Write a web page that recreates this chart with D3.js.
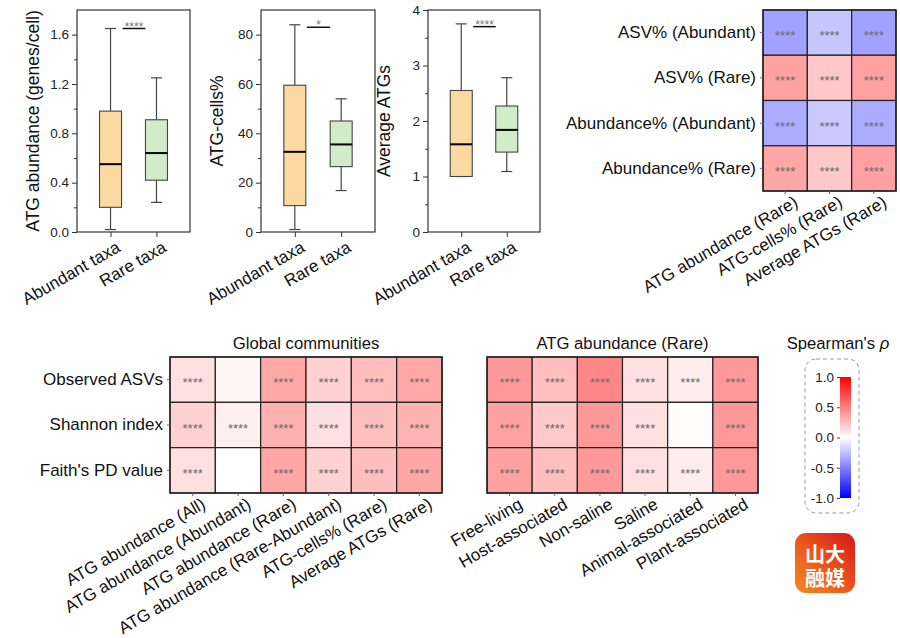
<!DOCTYPE html>
<html>
<head>
<meta charset="utf-8">
<script src="https://cdn.jsdelivr.net/npm/d3@7"></script>
<style>
body { margin: 0; background: #fff; }
text { font-family: "Liberation Sans", Arial, sans-serif; }
</style>
</head>
<body>
<svg id="fig" width="900" height="638"></svg>
<script>
// ---------------------------- DATA ----------------------------
const taxa = ["Abundant taxa", "Rare taxa"];
// box stats: [min, q1, median, q3, max]
const atgAbundance = [[0.02, 0.20, 0.55, 0.98, 1.65], [0.24, 0.42, 0.64, 0.91, 1.25]];
const atgCells = [[1, 10.7, 32.5, 59.5, 84], [16.8, 26.5, 35.5, 45, 54]];
const avgAtgs = [[1.0, 1.0, 1.58, 2.55, 3.75], [1.09, 1.44, 1.84, 2.27, 2.78]];
const boxTitles = ["ATG abundance (genes/cell)", "ATG-cells%", "Average ATGs"];
const boxMax = [1.8, 90, 4];
const boxTicks = [[0, 0.4, 0.8, 1.2, 1.6], [0, 20, 40, 60, 80], [0, 1, 2, 3, 4]];
const boxMinor = [[0.2, 0.6, 1.0, 1.4], [10, 30, 50, 70], [0.5, 1.5, 2.5, 3.5]];
const sigLevel = [1.65, 83, 3.7];
const sigMarks = ["****", "*", "****"];

const compRows = ["ASV% (Abundant)", "ASV% (Rare)", "Abundance% (Abundant)", "Abundance% (Rare)"];
const compCols = ["ATG abundance (Rare)", "ATG-cells% (Rare)", "Average ATGs (Rare)"];
const compRho = [[-0.37, -0.22, -0.37], [0.37, 0.22, 0.37], [-0.33, -0.21, -0.33], [0.35, 0.21, 0.37]];
const compSig = [["****", "****", "****"], ["****", "****", "****"], ["****", "****", "****"], ["****", "****", "****"]];

const diversityRows = ["Observed ASVs", "Shannon index", "Faith's PD value"];
const globalCols = ["ATG abundance (All)", "ATG abundance (Abundant)", "ATG abundance (Rare)",
    "ATG abundance (Rare-Abundant)", "ATG-cells% (Rare)", "Average ATGs (Rare)"];
const globalRho = [[0.12, 0.03, 0.34, 0.18, 0.25, 0.34],
                   [0.18, 0.06, 0.31, 0.12, 0.25, 0.30],
                   [0.12, 0.00, 0.35, 0.18, 0.25, 0.35]];
const globalSig = [["****", "", "****", "****", "****", "****"],
                   ["****", "****", "****", "****", "****", "****"],
                   ["****", "", "****", "****", "****", "****"]];

const habitatCols = ["Free-living", "Host-associated", "Non-saline", "Saline", "Animal-associated", "Plant-associated"];
const habitatRho = [[0.40, 0.25, 0.47, 0.12, 0.07, 0.40],
                    [0.37, 0.21, 0.40, 0.12, 0.01, 0.40],
                    [0.37, 0.25, 0.40, 0.12, 0.07, 0.40]];
const habitatSig = [["****", "****", "****", "****", "****", "****"],
                    ["****", "****", "****", "****", "", "****"],
                    ["****", "****", "****", "****", "****", "****"]];

const legendTicks = [1.0, 0.5, 0.0, -0.5, -1.0];

// ---------------------------- SETUP ----------------------------
const svg = d3.select("#fig");
svg.append("rect").attr("width", 900).attr("height", 638).attr("fill", "#fff");

const rhoColor = d3.scaleLinear().domain([-1, 0, 1]).range(["#0000ff", "#ffffff", "#ff0000"]);
const boxFill = ["#fdd9a2", "#d2ecca"];
const axisCol = "#333";
const font = "Liberation Sans, Arial, sans-serif";

// ---------------------------- BOX PLOTS ----------------------------
const boxPanels = [
    { data: atgAbundance, left: 77, right: 190, fmt: d3.format(".1f") },
    { data: atgCells, left: 261, right: 375, fmt: d3.format("d") },
    { data: avgAtgs, left: 428, right: 540, fmt: d3.format("d") }
];
const boxTop = 10, boxBottom = 232;

boxPanels.forEach((p, k) => {
    const g = svg.append("g");
    const x = d3.scalePoint().domain(taxa).range([p.left, p.right]).padding(0.73);
    const y = d3.scaleLinear().domain([0, boxMax[k]]).range([boxBottom, boxTop]);

    // frame
    g.append("rect")
        .attr("x", p.left).attr("y", boxTop)
        .attr("width", p.right - p.left).attr("height", boxBottom - boxTop)
        .attr("fill", "none").attr("stroke", axisCol).attr("stroke-width", 1.2);

    // y axis (major + minor ticks)
    const yAxis = g.append("g").attr("transform", `translate(${p.left},0)`)
        .call(d3.axisLeft(y).tickValues(boxTicks[k]).tickFormat(p.fmt).tickSize(5).tickPadding(3));
    yAxis.select(".domain").remove();
    yAxis.selectAll("line").attr("stroke", axisCol);
    yAxis.selectAll("text").style("font-size", "13.5px").style("font-family", font).style("fill", "#222");
    g.append("g").attr("transform", `translate(${p.left},0)`)
        .call(d3.axisLeft(y).tickValues(boxMinor[k]).tickFormat("").tickSize(3))
        .call(a => a.select(".domain").remove())
        .selectAll("line").attr("stroke", axisCol);

    // x axis
    const xAxis = g.append("g").attr("transform", `translate(0,${boxBottom})`)
        .call(d3.axisBottom(x).tickSize(5).tickFormat(""));
    xAxis.select(".domain").remove();
    xAxis.selectAll("line").attr("stroke", axisCol);
    g.selectAll(".xlab").data(taxa).enter().append("text")
        .attr("transform", d => `translate(${x(d) + 5},${boxBottom + 8}) rotate(-30)`)
        .attr("text-anchor", "end").attr("dy", "0.71em")
        .style("font-size", "17px").style("fill", "#111").text(d => d);

    // y title
    g.append("text")
        .attr("transform", `translate(${p.left - 38},${(boxTop + boxBottom) / 2}) rotate(-90)`)
        .attr("text-anchor", "middle").style("font-size", "17.5px").style("fill", "#111")
        .text(boxTitles[k]);

    // boxes
    const bw = 22;
    const boxes = g.selectAll(".box").data(p.data).enter().append("g");
    boxes.append("line")
        .attr("x1", (d, i) => x(taxa[i])).attr("x2", (d, i) => x(taxa[i]))
        .attr("y1", d => y(d[0])).attr("y2", d => y(d[4]))
        .attr("stroke", "#444").attr("stroke-width", 1.2);
    boxes.append("line")
        .attr("x1", (d, i) => x(taxa[i]) - bw / 4).attr("x2", (d, i) => x(taxa[i]) + bw / 4)
        .attr("y1", d => y(d[4])).attr("y2", d => y(d[4]))
        .attr("stroke", "#444").attr("stroke-width", 1.2);
    boxes.append("line")
        .attr("x1", (d, i) => x(taxa[i]) - bw / 4).attr("x2", (d, i) => x(taxa[i]) + bw / 4)
        .attr("y1", d => y(d[0])).attr("y2", d => y(d[0]))
        .attr("stroke", "#444").attr("stroke-width", 1.2);
    boxes.append("rect")
        .attr("x", (d, i) => x(taxa[i]) - bw / 2).attr("width", bw)
        .attr("y", d => y(d[3])).attr("height", d => y(d[1]) - y(d[3]))
        .attr("fill", (d, i) => boxFill[i]).attr("stroke", "#444").attr("stroke-width", 1.1);
    boxes.append("line")
        .attr("x1", (d, i) => x(taxa[i]) - bw / 2).attr("x2", (d, i) => x(taxa[i]) + bw / 2)
        .attr("y1", d => y(d[2])).attr("y2", d => y(d[2]))
        .attr("stroke", "#000").attr("stroke-width", 2);

    // significance bar
    const x1 = x(taxa[0]) + 12, x2 = x(taxa[1]) - 11;
    g.append("line").attr("x1", x1).attr("x2", x2)
        .attr("y1", y(sigLevel[k])).attr("y2", y(sigLevel[k]))
        .attr("stroke", "#111").attr("stroke-width", 1.5);
    g.append("text").attr("x", (x1 + x2) / 2).attr("y", y(sigLevel[k]) + 2)
        .attr("text-anchor", "middle").style("font-size", "12px").style("fill", "#777")
        .text(sigMarks[k]);
});

// ---------------------------- HEATMAPS ----------------------------
function drawHeat(rows, cols, values, sig, left, top, right, bottom, title, rowLabels) {
    const g = svg.append("g");
    const x = d3.scaleBand().domain(cols).range([left, right]);
    const y = d3.scaleBand().domain(rows).range([top, bottom]);

    rows.forEach((r, i) => {
        cols.forEach((c, j) => {
            g.append("rect")
                .attr("x", x(c)).attr("y", y(r))
                .attr("width", x.bandwidth()).attr("height", y.bandwidth())
                .attr("fill", rhoColor(values[i][j]))
                .attr("stroke", "#222").attr("stroke-width", 1.2);
            g.append("text")
                .attr("x", x(c) + x.bandwidth() / 2).attr("y", y(r) + y.bandwidth() / 2 + 7.5)
                .attr("text-anchor", "middle").style("font-size", "13px").style("fill", "#6a6a6a")
                .text(sig[i][j]);
        });
    });
    g.append("rect").attr("x", left).attr("y", top)
        .attr("width", right - left).attr("height", bottom - top)
        .attr("fill", "none").attr("stroke", "#222").attr("stroke-width", 1.4);

    if (rowLabels) {
        const ya = g.append("g").attr("transform", `translate(${left},0)`)
            .call(d3.axisLeft(y).tickSize(3).tickPadding(4));
        ya.select(".domain").remove();
        ya.selectAll("line").attr("stroke", "#666");
        ya.selectAll("text").style("font-size", "17px").style("font-family", font).style("fill", "#111");
    }

    const xa = g.append("g").attr("transform", `translate(0,${bottom})`)
        .call(d3.axisBottom(x).tickSize(3).tickFormat(""));
    xa.select(".domain").remove();
    xa.selectAll("line").attr("stroke", "#666");
    g.selectAll(".xlab").data(cols).enter().append("text")
        .attr("transform", d => `translate(${x(d) + x.bandwidth() / 2 + 8},${bottom + 4}) rotate(-30)`)
        .attr("text-anchor", "end").attr("dy", "0.71em")
        .style("font-size", "17px").style("fill", "#111").text(d => d);

    if (title) {
        g.append("text").attr("x", (left + right) / 2).attr("y", 349)
            .attr("text-anchor", "middle").style("font-size", "16.7px").style("fill", "#111").text(title);
    }
}

drawHeat(compRows, compCols, compRho, compSig, 763, 10, 896, 191, null, true);
drawHeat(diversityRows, globalCols, globalRho, globalSig, 170, 357, 442, 493, "Global communities", true);
drawHeat(diversityRows, habitatCols, habitatRho, habitatSig, 487, 357, 758, 493, "ATG abundance (Rare)", false);

// ---------------------------- COLOUR LEGEND ----------------------------
const defs = svg.append("defs");
const grad = defs.append("linearGradient").attr("id", "rhoGrad")
    .attr("x1", 0).attr("y1", 1).attr("x2", 0).attr("y2", 0);
[-1, 0, 1].forEach(v => grad.append("stop")
    .attr("offset", (v + 1) / 2).attr("stop-color", rhoColor(v)));

const legendY = d3.scaleLinear().domain([-1, 1]).range([498, 377]);
svg.append("rect").attr("x", 805).attr("y", 359).attr("width", 54).attr("height", 154)
    .attr("rx", 11).attr("fill", "none").attr("stroke", "#999").attr("stroke-dasharray", "4,3");
svg.append("rect").attr("x", 840).attr("y", legendY(1)).attr("width", 11)
    .attr("height", legendY(-1) - legendY(1)).attr("fill", "url(#rhoGrad)");
const la = svg.append("g").attr("transform", "translate(840,0)")
    .call(d3.axisLeft(legendY).tickValues(legendTicks).tickSize(3).tickPadding(3).tickFormat(d => d.toFixed(1)));
la.select(".domain").remove();
la.selectAll("line").attr("stroke", "#444");
la.selectAll("text").style("font-size", "13.5px").style("font-family", font).style("fill", "#222");

const lt = svg.append("text").attr("x", 838).attr("y", 349).attr("text-anchor", "middle")
    .style("font-size", "16.7px").style("fill", "#111");
lt.append("tspan").text("Spearman's ");
lt.append("tspan").style("font-style", "italic").text("ρ");

// ---------------------------- LOGO ----------------------------
const lg = defs.append("linearGradient").attr("id", "logoGrad")
    .attr("x1", 0).attr("y1", 1).attr("x2", 1).attr("y2", 0);
lg.append("stop").attr("offset", 0).attr("stop-color", "#f38a22");
lg.append("stop").attr("offset", 0.45).attr("stop-color", "#ec5a1c");
lg.append("stop").attr("offset", 1).attr("stop-color", "#d4161a");
svg.append("rect").attr("x", 795).attr("y", 533).attr("width", 60).attr("height", 60)
    .attr("rx", 11).attr("fill", "url(#logoGrad)");
[["山大", 562], ["融媒", 586]].forEach(([t, yy]) => {
    svg.append("text").attr("x", 825).attr("y", yy).attr("text-anchor", "middle")
        .style("font-family", "Noto Sans CJK SC").style("font-weight", "bold")
        .style("font-size", "20px").style("fill", "#fff").text(t);
});
</script>
</body>
</html>
